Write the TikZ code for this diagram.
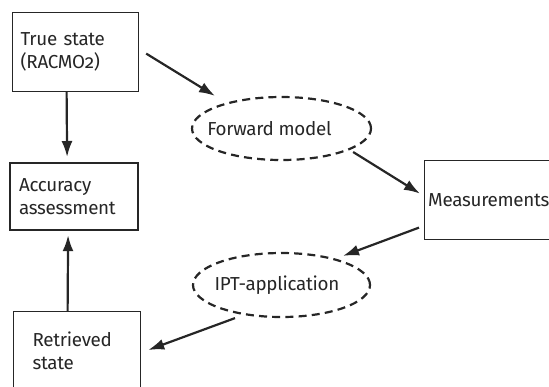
\documentclass[tikz,border=0pt]{standalone}
\usepackage{fontspec}
\setmainfont[Numbers=OldStyle,LetterSpace=-1.5]{Fira Sans}
\usetikzlibrary{arrows.meta,shapes.geometric}
\definecolor{ink}{HTML}{262626}
\tikzset{
  stepbox/.style={draw=ink,line width=.6pt,rectangle,anchor=north west,align=left,text=ink},
  modelbox/.style={draw=ink,line width=1.1pt,dash pattern=on 4pt off 2.6pt,ellipse},
  flow/.style={draw=ink,line width=1.1pt,-{Latex[length=8pt,width=5.5pt]}}
}
\begin{document}
\begin{tikzpicture}[x=.5pt,y=-.5pt,font=\fontsize{9.4}{11.4}\selectfont]
        \useasboundingbox (0,0) rectangle (549,386);
        \clip (0,0) rectangle (549,386);
        \node[stepbox,text width=55pt,inner xsep=4pt,minimum height=39.5pt] (true) at (12,12) {True state\\(RACMO2)};
        \node[stepbox,line width=1.1pt,text width=55pt,inner xsep=4.5pt,minimum height=33.5pt] (acc) at (9,162) {Accuracy\\assessment};
        \node[stepbox,text width=44.5pt,inner xsep=9.5pt,minimum height=39.5pt] (ret) at (13,311) {Retrieved\\state};
        \node[stepbox,text width=65pt,inner xsep=1.8pt,minimum height=39.5pt] (meas) at (424,160) {Measurements};
        \node[modelbox,minimum width=89.5pt,minimum height=31.5pt,label={[xshift=-6pt,text=ink]center:Forward model}] (fwd) at (281.5,128.5) {};
        \node[modelbox,minimum width=88.5pt,minimum height=32pt,label={[xshift=-2.25pt,text=ink]center:IPT-application}] (ipt) at (281.5,285) {};
        \draw[flow] ([xshift=3.5pt,yshift=-.75pt]true.east) -- ([xshift=-33.25pt]fwd.north);
        \draw[flow] ([xshift=-9.5pt,yshift=-11.75pt]fwd.east) -- ([xshift=-2pt,yshift=3.25pt]meas.west);
        \draw[flow] ([xshift=-2.5pt,yshift=-13.75pt]meas.west) -- ([xshift=30.75pt,yshift=-2pt]ipt.north);
        \draw[flow] ([xshift=-23.25pt]ipt.south) -- ([xshift=3.5pt,yshift=-19.5pt]ret.north east);
        \draw[flow] ([xshift=-4.5pt]true.south) -- ([xshift=-3.5pt,yshift=2.5pt]acc.north);
        \draw[flow] ([xshift=-4.75pt]ret.north) -- ([xshift=-3pt,yshift=-2pt]acc.south);
\end{tikzpicture}
\end{document}
